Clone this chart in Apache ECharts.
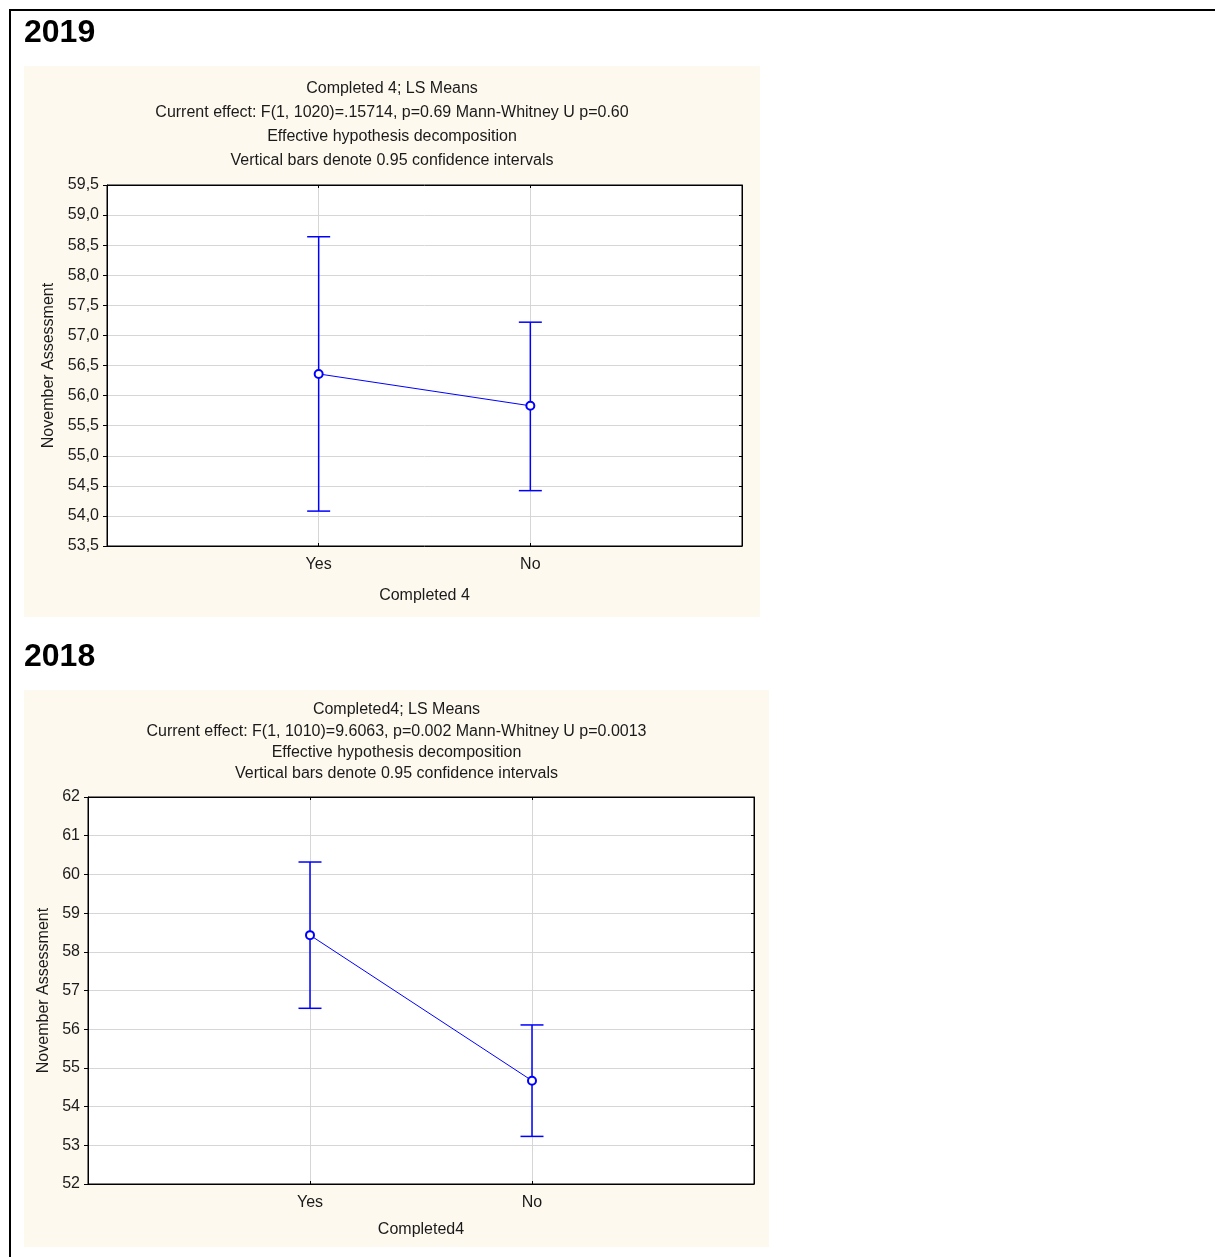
<!DOCTYPE html>
<html>
<head>
<meta charset="utf-8">
<title>November Assessment by Completed 4</title>
<script src="https://cdn.jsdelivr.net/npm/echarts@6/dist/echarts.min.js"></script>
<style>
  html, body { margin: 0; padding: 0; background: #ffffff; }
  #chart { width: 1215px; height: 1257px; }
</style>
</head>
<body>
<div id="chart"></div>
<script>
// Group labels shared by both years
const categories = ['Yes', 'No'];

// 2019: LS means with 0.95 confidence limits
const mean2019  = [56.36, 55.83];
const lower2019 = [54.08, 54.42];
const upper2019 = [58.64, 57.22];

// 2018: LS means with 0.95 confidence limits
const mean2018  = [58.43, 54.67];
const lower2018 = [56.54, 53.23];
const upper2018 = [60.32, 56.11];

const yearLabels = ['2019', '2018'];
const xNames = ['Completed 4', 'Completed4'];
const yName = 'November Assessment';
const header2019 = [
  'Completed 4; LS Means',
  'Current effect: F(1, 1020)=.15714, p=0.69 Mann-Whitney U p=0.60',
  'Effective hypothesis decomposition',
  'Vertical bars denote 0.95 confidence intervals'
];
const header2018 = [
  'Completed4; LS Means',
  'Current effect: F(1, 1010)=9.6063, p=0.002 Mann-Whitney U p=0.0013',
  'Effective hypothesis decomposition',
  'Vertical bars denote 0.95 confidence intervals'
];

const FONT = '"Liberation Sans", Arial, sans-serif';
const TEXT = '#1a1a1a';
const PANEL = '#fdf9ef';
const GRIDLINE = '#d6d6d6';
const BLUE = '#0000ff';
const FS = 16;

const chart = echarts.init(document.getElementById('chart'), null, { renderer: 'canvas' });

// x positions: groups sit at 1 and 2 on a 0..3 scale
const xPos = categories.map((_, i) => i + 1);

function pointData(means) {
  return means.map((m, i) => [xPos[i], m]);
}
function barData(lows, highs) {
  return lows.map((lo, i) => [xPos[i], lo, highs[i]]);
}

// Whisker with caps, placed through the grid's coordinate system
function renderWhisker(params, api) {
  const x = api.value(0);
  const lo = api.coord([x, api.value(1)]);
  const hi = api.coord([x, api.value(2)]);
  const half = 11.5;
  const style = { stroke: BLUE, lineWidth: 1.5, fill: null };
  return {
    type: 'group',
    children: [
      { type: 'line', shape: { x1: lo[0], y1: lo[1], x2: hi[0], y2: hi[1] }, style },
      { type: 'line', shape: { x1: hi[0] - half, y1: hi[1], x2: hi[0] + half, y2: hi[1] }, style },
      { type: 'line', shape: { x1: lo[0] - half, y1: lo[1], x2: lo[0] + half, y2: lo[1] }, style }
    ]
  };
}

const labelStyle = { color: TEXT, fontSize: FS, fontFamily: FONT };

function bottomX(gridIndex, name, nameGap) {
  return {
    type: 'value', gridIndex, position: 'bottom',
    min: 0, max: 3, interval: 1,
    name, nameLocation: 'middle', nameGap,
    nameTextStyle: labelStyle,
    axisLine: { show: true, onZero: false, lineStyle: { color: '#000', width: 1 } },
    axisTick: { show: true, inside: true, length: 3, lineStyle: { color: '#000' } },
    axisLabel: {
      ...labelStyle, margin: 11,
      formatter: v => categories[v - 1] || ''
    },
    splitLine: { show: true, lineStyle: { color: GRIDLINE, width: 1 } }
  };
}
function topX(gridIndex) {
  return {
    type: 'value', gridIndex, position: 'top',
    min: 0, max: 3, interval: 1,
    axisLine: { show: true, onZero: false, lineStyle: { color: '#000', width: 1 } },
    axisTick: { show: true, inside: true, length: 3, lineStyle: { color: '#000' } },
    axisLabel: { show: false },
    splitLine: { show: false }
  };
}
function leftY(gridIndex, min, max, interval, fmt, nameGap) {
  return {
    type: 'value', gridIndex, position: 'left',
    min, max, interval,
    name: yName, nameLocation: 'middle', nameGap, nameRotate: 90,
    nameTextStyle: labelStyle,
    axisLine: { show: true, onZero: false, lineStyle: { color: '#000', width: 1 } },
    axisTick: { show: true, inside: false, length: 4, lineStyle: { color: '#000' } },
    axisLabel: { ...labelStyle, margin: 8, formatter: fmt },
    splitLine: { show: true, lineStyle: { color: GRIDLINE, width: 1 } }
  };
}
function rightY(gridIndex, min, max, interval) {
  return {
    type: 'value', gridIndex, position: 'right',
    min, max, interval,
    axisLine: { show: true, onZero: false, lineStyle: { color: '#000', width: 1 } },
    axisTick: { show: true, inside: true, length: 3, lineStyle: { color: '#000' } },
    axisLabel: { show: false },
    splitLine: { show: false }
  };
}

function meanSeries(axisIdx, means) {
  return {
    type: 'line', xAxisIndex: axisIdx, yAxisIndex: axisIdx,
    data: pointData(means),
    symbol: 'emptyCircle', symbolSize: 8,
    lineStyle: { color: BLUE, width: 1 },
    itemStyle: { color: BLUE, borderColor: BLUE, borderWidth: 1 },
    z: 4, animation: false, silent: true
  };
}
function whiskerSeries(axisIdx, lows, highs) {
  return {
    type: 'custom', xAxisIndex: axisIdx, yAxisIndex: axisIdx,
    data: barData(lows, highs),
    renderItem: renderWhisker,
    encode: { x: 0, y: [1, 2] },
    z: 3, animation: false, silent: true
  };
}

function headerTexts(lines, cx, cy, lineGap) {
  const n = lines.length;
  return lines.map((t, i) => ({
    type: 'text', z: 1,
    style: {
      text: t, x: cx, y: cy + (i - (n - 1) / 2) * lineGap,
      align: 'center', verticalAlign: 'middle',
      font: FS + 'px ' + FONT, fill: TEXT
    }
  }));
}

const graphic = [
  // outer frame
  { type: 'rect', z: -5, shape: { x: 10, y: 10, width: 1240, height: 1290 },
    style: { fill: null, stroke: '#000', lineWidth: 2 } },
  // panel backgrounds
  { type: 'rect', z: -4, shape: { x: 24, y: 66, width: 736, height: 551 }, style: { fill: PANEL } },
  { type: 'rect', z: -4, shape: { x: 24, y: 690, width: 745, height: 557 }, style: { fill: PANEL } },
  // year headings
  { type: 'text', z: 1, style: { text: yearLabels[0], x: 24, y: 33, verticalAlign: 'middle',
      font: 'bold 32px ' + FONT, fill: '#000' } },
  { type: 'text', z: 1, style: { text: yearLabels[1], x: 24, y: 657, verticalAlign: 'middle',
      font: 'bold 32px ' + FONT, fill: '#000' } },
  ...headerTexts(header2019, 392, 125, 24),
  ...headerTexts(header2018, 396.5, 742, 21.3)
];

const comma1 = v => v.toFixed(1).replace('.', ',');

const option = {
  animation: false,
  backgroundColor: '#ffffff',
  graphic,
  grid: [
    { left: 107, top: 185, width: 635, height: 361, show: true,
      backgroundColor: '#ffffff', borderColor: '#000', borderWidth: 1 },
    { left: 88, top: 797, width: 666, height: 387, show: true,
      backgroundColor: '#ffffff', borderColor: '#000', borderWidth: 1 }
  ],
  xAxis: [
    bottomX(0, xNames[0], 42),
    bottomX(1, xNames[1], 38),
    topX(0),
    topX(1)
  ],
  yAxis: [
    leftY(0, 53.5, 59.5, 0.5, comma1, 49),
    leftY(1, 52, 62, 1, v => String(v), 35),
    rightY(0, 53.5, 59.5, 0.5),
    rightY(1, 52, 62, 1)
  ],
  series: [
    whiskerSeries(0, lower2019, upper2019),
    meanSeries(0, mean2019),
    whiskerSeries(1, lower2018, upper2018),
    meanSeries(1, mean2018)
  ]
};

chart.setOption(option);
</script>
</body>
</html>
